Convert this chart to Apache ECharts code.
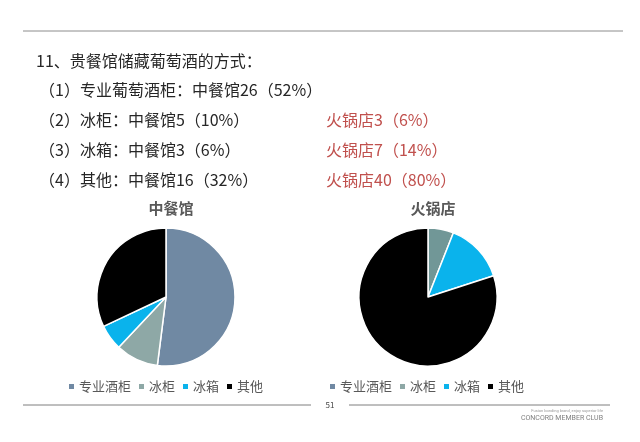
<!DOCTYPE html>
<html>
<head>
<meta charset="utf-8">
<script src="https://cdn.jsdelivr.net/npm/echarts@6/dist/echarts.min.js"></script>
<style>
    html, body { margin: 0; padding: 0; background: #fff; }
    .chart { width: 640px; height: 442px; }
</style>
</head>
<body>
<div class="chart"></div>
<script>
// 储藏方式
const categories = ['专业酒柜', '冰柜', '冰箱', '其他']
const chineseValues = [26, 5, 3, 16]   // 中餐馆
const hotpotValues = [0, 3, 7, 40]     // 火锅店
const groupNames = ['中餐馆', '火锅店']
const sliceColors = ['#7089a3', '#8ea8a6', '#0ab3ec', '#000000']
const hotpotColors = ['#7089a3', '#719797', '#0ab3ec', '#000000']

const heading = '11、贵餐馆储藏葡萄酒的方式：'
const leftLines = [
    '（1）专业葡萄酒柜：中餐馆26（52%）',
    '（2）冰柜：中餐馆5（10%）',
    '（3）冰箱：中餐馆3（6%）',
    '（4）其他：中餐馆16（32%）'
]
const rightLines = ['', '火锅店3（6%）', '火锅店7（14%）', '火锅店40（80%）']

;(function () {
    const myChart = echarts.init(document.querySelector('.chart'))
    const font = '"Noto Sans CJK SC", sans-serif'

    const toData = (values, colors) => categories.map((name, i) => ({
        name: name,
        value: values[i],
        itemStyle: { color: colors[i] }
    }))

    // 文字和分隔线
    const graphics = [
        { type: 'line', shape: { x1: 23, y1: 31, x2: 623, y2: 31 }, style: { stroke: '#8c8c8c', lineWidth: 1 } },
        { type: 'text', x: 36, y: 61, style: { text: heading, font: '16px ' + font, fill: '#262626', verticalAlign: 'middle' } },
        { type: 'line', shape: { x1: 23, y1: 405, x2: 311, y2: 405 }, style: { stroke: '#7f7f7f', lineWidth: 1 } },
        { type: 'line', shape: { x1: 349, y1: 405, x2: 610, y2: 405 }, style: { stroke: '#7f7f7f', lineWidth: 1 } },
        { type: 'text', x: 330, y: 405, style: { text: '51', font: '8px ' + font, fill: '#444', align: 'center', verticalAlign: 'middle' } },
        { type: 'text', x: 603, y: 411, style: { text: 'Fusion bonding brand, enjoy superior life', font: '4px Roboto', fill: '#999', align: 'right', verticalAlign: 'middle' } },
        { type: 'text', x: 603, y: 418, style: { text: 'CONCORD MEMBER CLUB', font: '7px Roboto', fill: '#808080', align: 'right', verticalAlign: 'middle' } }
    ]
    leftLines.forEach((t, i) => {
        graphics.push({ type: 'text', x: 39, y: 90 + i * 30, style: { text: t, font: '16px ' + font, fill: '#262626', verticalAlign: 'middle' } })
        if (rightLines[i]) {
            graphics.push({ type: 'text', x: 326, y: 90 + i * 30, style: { text: rightLines[i], font: '16px ' + font, fill: '#c0504d', verticalAlign: 'middle' } })
        }
    })

    const legendBase = {
        data: categories,
        icon: 'rect',
        itemWidth: 7,
        itemHeight: 7,
        itemGap: 6,
        padding: 0,
        top: 380,
        selectedMode: false,
        textStyle: { fontSize: 13, color: '#595959', fontFamily: font, padding: [0, 0, 0, -1] }
    }

    const option = {
        backgroundColor: '#fff',
        title: [
            { text: groupNames[0], left: 166, top: 196, textAlign: 'center', textStyle: { fontSize: 15, color: '#595959', fontFamily: font } },
            { text: groupNames[1], left: 428, top: 196, textAlign: 'center', textStyle: { fontSize: 15, color: '#595959', fontFamily: font } }
        ],
        legend: [
            Object.assign({}, legendBase, { left: 67 }),
            Object.assign({}, legendBase, { left: 328 })
        ],
        graphic: graphics,
        series: [
            {
                name: groupNames[0],
                type: 'pie',
                center: [166, 297],
                radius: 69,
                startAngle: 90,
                label: { show: false },
                emphasis: { disabled: true },
                itemStyle: { borderColor: '#fff', borderWidth: 1.5 },
                data: toData(chineseValues, sliceColors)
            },
            {
                name: groupNames[1],
                type: 'pie',
                center: [428, 297],
                radius: 69,
                startAngle: 90,
                label: { show: false },
                emphasis: { disabled: true },
                itemStyle: { borderColor: '#fff', borderWidth: 1.5 },
                data: toData(hotpotValues, hotpotColors)
            }
        ]
    }
    myChart.setOption(option)
})()
</script>
</body>
</html>
